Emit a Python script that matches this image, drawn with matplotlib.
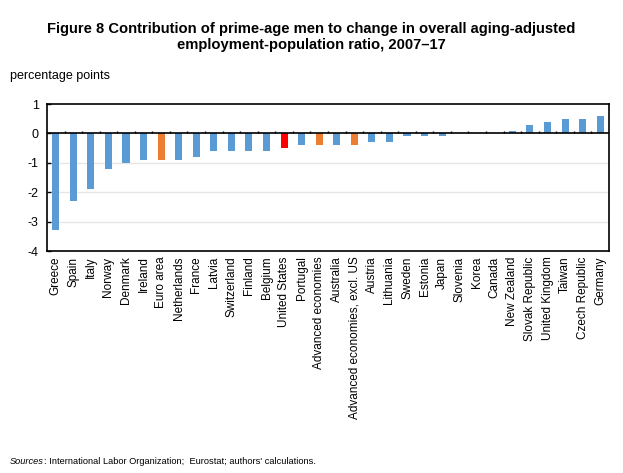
import numpy as np
import matplotlib.pyplot as plt
from matplotlib import font_manager

countries = ["Greece", "Spain", "Italy", "Norway", "Denmark", "Ireland", "Euro area",
             "Netherlands", "France", "Latvia", "Switzerland", "Finland", "Belgium",
             "United States", "Portugal", "Advanced economies", "Australia",
             "Advanced economies, excl. US", "Austria", "Lithuania", "Sweden", "Estonia",
             "Japan", "Slovenia", "Korea", "Canada", "New Zealand", "Slovak Republic",
             "United Kingdom", "Taiwan", "Czech Republic", "Germany"]
values = [-3.3, -2.3, -1.9, -1.2, -1.0, -0.9, -0.9, -0.9, -0.8, -0.6, -0.6, -0.6, -0.6,
          -0.5, -0.4, -0.4, -0.4, -0.4, -0.3, -0.3, -0.1, -0.1, -0.1, 0.0, 0.0, 0.0,
          0.07, 0.3, 0.4, 0.5, 0.5, 0.6]
aggregates = ["Euro area", "Advanced economies", "Advanced economies, excl. US"]
highlight = "United States"

BLUE = "#5B9BD5"
ORANGE = "#ED7D31"
RED = "#FF0000"

installed = {f.name for f in font_manager.fontManager.ttflist}
title_font = "Liberation Sans Narrow" if "Liberation Sans Narrow" in installed else "Liberation Sans"
plt.rcParams['font.family'] = ['Liberation Sans', 'DejaVu Sans']

colors = []
for c in countries:
    if c == highlight:
        colors.append(RED)
    elif c in aggregates:
        colors.append(ORANGE)
    else:
        colors.append(BLUE)

fig = plt.figure(figsize=(6.23, 4.73), dpi=100)
ax = fig.add_axes([0.0754, 0.4693, 0.9021, 0.3107])

x = np.arange(len(countries))
ax.bar(x, values, width=0.4, color=colors, zorder=3)

ax.set_xlim(-0.5, len(countries) - 0.5)
ax.set_ylim(-4, 1)
ax.set_yticks(range(-4, 2))
ax.set_yticklabels([str(v) for v in range(-4, 2)], fontsize=9)
ax.tick_params(axis='y', direction='in', length=3, width=1, pad=6)
ax.set_xticks(x)
ax.set_xticklabels(countries, rotation=90, fontsize=8.5)
ax.tick_params(axis='x', length=0, pad=4)

for yv in [-1, -2, -3]:
    ax.axhline(yv, color="#E6E6E6", lw=1, zorder=1)
ax.axhline(0, color="black", lw=1.2, zorder=4)
ax.vlines(x[:-1] + 0.5, 0, 0.1, color="black", lw=1, zorder=4)

for s in ax.spines.values():
    s.set_linewidth(1.2)

fig.text(0.5, 0.953, "Figure 8 Contribution of prime-age men to change in overall aging-adjusted\n"
         "employment-population ratio, 2007\u201317", ha='center', va='top',
         fontsize=10.6, fontweight='bold', family=title_font, linespacing=1.2)
fig.text(0.016, 0.833, "percentage points", fontsize=9)

src = fig.text(0.016, 0.018, "Sources", fontsize=6.7, style='italic')
ax.annotate(": International Labor Organization;  Eurostat; authors' calculations.",
            xy=(1, 0), xycoords=src, va='bottom', fontsize=6.7)

fig.savefig("out.png", dpi=100)
